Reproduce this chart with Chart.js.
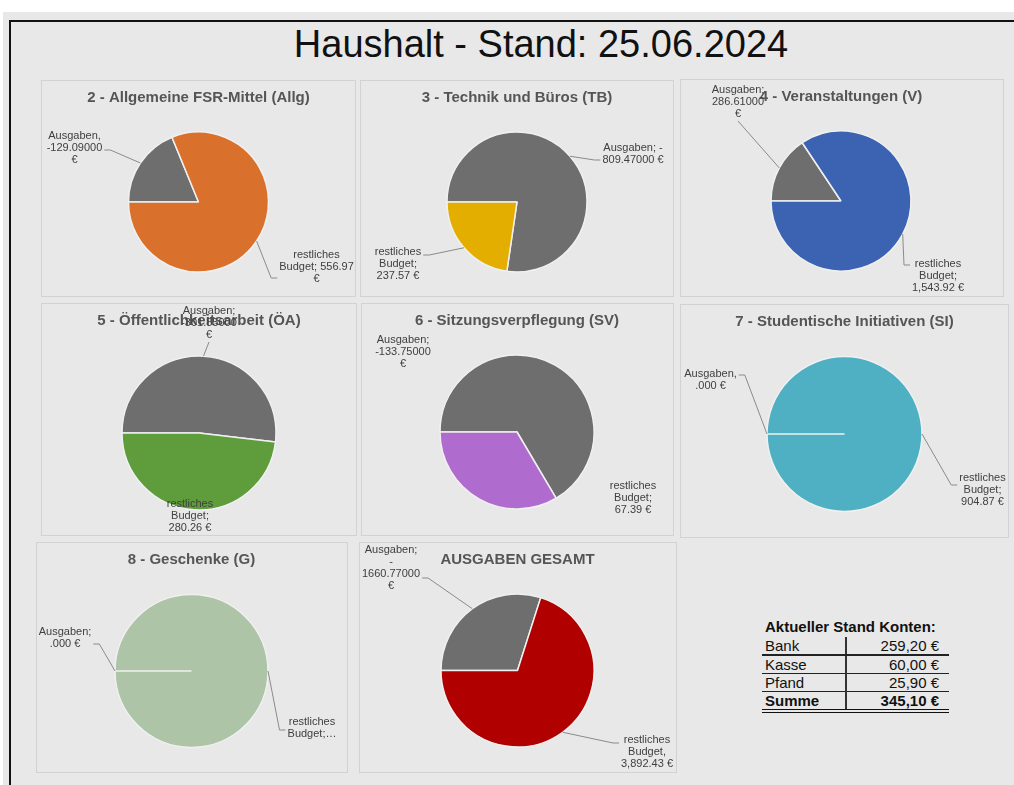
<!DOCTYPE html>
<html>
<head>
<meta charset="utf-8">
<script src="https://cdn.jsdelivr.net/npm/chart.js"></script>
<style>
  html, body { margin: 0; width: 1014px; height: 785px; overflow: hidden; background: #fff; font-family: "Liberation Sans", Arial, sans-serif; }
  #bg { position: absolute; left: 3px; top: 12px; width: 1011px; height: 773px; background: #e8e8e8; }
  #rahmen { position: absolute; left: 9px; top: 20px; width: 1010px; height: 780px; border-top: 2px solid #111; border-left: 2px solid #111; }
  #haupttitel { position: absolute; left: 0; width: 1082px; top: 22px; text-align: center; font-size: 38px; line-height: 44px; color: #111; }
  .panel { position: absolute; box-sizing: border-box; border: 1px solid #d2d2d2; }
  .panel canvas { display: block; }
  #konten { position: absolute; left: 762px; top: 618px; border-collapse: collapse; font-size: 15px; color: #111; }
  #konten caption { text-align: left; font-weight: bold; padding: 0 0 1px 3px; line-height: 18px; white-space: nowrap; }
  #konten td { padding: 0 3px; line-height: 17px; height: 17px; }
  #konten td:first-child { width: 77px; border-right: 2px solid #333; }
  #konten td:last-child { width: 89px; text-align: right; padding-right: 10px; }
  #konten tr.z0 td { border-bottom: 2px solid #222; }
  #konten tr.z1 td, #konten tr.z2 td { border-bottom: 1.5px solid #222; }
  #konten tr.summe td { font-weight: bold; border-bottom: 4px double #111; }
</style>
</head>
<body>
<div id="bg"></div>
<div id="rahmen"></div>
<div id="haupttitel">Haushalt - Stand: 25.06.2024</div>
<div id="panels"></div>
<table id="konten"><caption>Aktueller Stand Konten:</caption><tbody></tbody></table>

<script>
// Daten
const kategorien = [
  '2 - Allgemeine FSR-Mittel (Allg)',
  '3 - Technik und Büros (TB)',
  '4 - Veranstaltungen (V)',
  '5 - Öffentlichkeitsarbeit (ÖA)',
  '6 - Sitzungsverpflegung (SV)',
  '7 - Studentische Initiativen (SI)',
  '8 - Geschenke (G)',
  'AUSGABEN GESAMT'
];
const ausgaben = [129.09, 809.47, 286.61, 301.85, 133.75, 0, 0, 1660.77];
const restlichesBudget = [556.97, 237.57, 1543.92, 280.26, 67.39, 904.87, 301.45, 3892.43];
const farben = ['#d9702b', '#e4ae00', '#3b63b1', '#5f9c3b', '#b06bcf', '#4fb0c3', '#adc4a6', '#b00000'];

const ausgabenTexte = [
  ['Ausgaben,', '-129.09000', '€'],
  ['Ausgaben; -', '809.47000 €'],
  ['Ausgaben;', '286.61000', '€'],
  ['Ausgaben;', '-301.85000', '€'],
  ['Ausgaben;', '-133.75000', '€'],
  ['Ausgaben,', '.000 €'],
  ['Ausgaben;', '.000 €'],
  ['Ausgaben;', '-', '1660.77000', '€']
];
const budgetTexte = [
  ['restliches', 'Budget; 556.97', '€'],
  ['restliches', 'Budget;', '237.57 €'],
  ['restliches', 'Budget;', '1,543.92 €'],
  ['restliches', 'Budget;', '280.26 €'],
  ['restliches', 'Budget;', '67.39 €'],
  ['restliches', 'Budget;', '904.87 €'],
  ['restliches', 'Budget;…'],
  ['restliches', 'Budget,', '3,892.43 €']
];

const konten = ['Bank', 'Kasse', 'Pfand'];
const kontostand = [259.20, 60.00, 25.90];
const summe = 345.10;

// Layout der Kacheln (Position, Kreismitte, Radius) und Beschriftungsversatz
const kacheln = [
  { l: 41,  t: 80,  w: 315, h: 217, cx: 198.5, cy: 202,   r: 70,
    lab: [{ dx: -124, dy: -54, linie: 'seite', ly: 2 }, { dx: 118, dy: 65, linie: 'seite', ly: 11 }] },
  { l: 360, t: 80,  w: 314, h: 217, cx: 517,   cy: 202,   r: 70,
    lab: [{ dx: 116, dy: -48, linie: 'seite', ly: 6 }, { dx: -119, dy: 62, linie: 'seite', ly: -9 }] },
  { l: 680, t: 79,  w: 324, h: 218, cx: 841,   cy: 201,   r: 70,
    lab: [{ dx: -103, dy: -99, linie: 'unten' }, { dx: 97, dy: 75, linie: 'seite', ly: -11 }] },
  { l: 41,  t: 303, w: 316, h: 233, cx: 199,   cy: 433,   r: 77,
    lab: [{ dx: 10, dy: -110, linie: 'unten' }, { dx: -9, dy: 83 }] },
  { l: 361, t: 303, w: 313, h: 233, cx: 517,   cy: 432,   r: 77,
    lab: [{ dx: -114, dy: -80 }, { dx: 116, dy: 66 }] },
  { l: 680, t: 304, w: 329, h: 234, cx: 844.5, cy: 434,   r: 77.5,
    lab: [{ dx: -134, dy: -54, linie: 'seite', ly: -5 }, { dx: 138, dy: 56, linie: 'seite', ly: -5 }] },
  { l: 36,  t: 542, w: 312, h: 231, cx: 191.5, cy: 671,   r: 76.5,
    lab: [{ dx: -126.5, dy: -33, linie: 'seite', ly: 6 }, { dx: 120.5, dy: 57, linie: 'seite', ly: 2 }] },
  { l: 359, t: 542, w: 318, h: 231, cx: 517.5, cy: 670.5, r: 76.5,
    lab: [{ dx: -126.5, dy: -102.5, linie: 'seite', ly: 10 }, { dx: 129.5, dy: 81.5, linie: 'seite', ly: -9 }] }
];

// Datenbeschriftungen mit Führungslinien
const beschriftung = {
  id: 'beschriftung',
  afterDraw(chart, args, opts) {
    const ctx = chart.ctx;
    const meta = chart.getDatasetMeta(0);
    ctx.save();
    ctx.font = '11px "Liberation Sans", Arial, sans-serif';
    ctx.textAlign = 'center';
    ctx.textBaseline = 'middle';
    meta.data.forEach((arc, i) => {
      const p = opts.lab[i];
      const lines = opts.texte[i];
      const { x, y, startAngle, endAngle, outerRadius } =
        arc.getProps(['x', 'y', 'startAngle', 'endAngle', 'outerRadius'], true);
      const mid = (startAngle + endAngle) / 2;
      const ax = x + Math.cos(mid) * outerRadius;
      const ay = y + Math.sin(mid) * outerRadius;
      const bx = x + p.dx, by = y + p.dy;
      const lh = 12;
      const w = Math.max(...lines.map(s => ctx.measureText(s).width));
      const h = lines.length * lh;
      if (p.linie) {
        ctx.strokeStyle = '#8a8a8a';
        ctx.lineWidth = 1;
        ctx.beginPath();
        ctx.moveTo(ax, ay);
        if (p.linie === 'unten') {
          ctx.lineTo(bx, by + h / 2 + 1);
        } else {
          const seite = bx < ax ? 1 : -1;
          const ex = bx + seite * (w / 2 + 2);
          ctx.lineTo(ex + seite * 6, by + (p.ly || 0));
          ctx.lineTo(ex, by + (p.ly || 0));
        }
        ctx.stroke();
      }
      ctx.fillStyle = '#404040';
      lines.forEach((s, k) => ctx.fillText(s, bx, by - h / 2 + lh / 2 + k * lh));
    });
    ctx.restore();
  }
};

const panels = document.getElementById('panels');
kacheln.forEach((k, i) => {
  const div = document.createElement('div');
  div.className = 'panel';
  div.style.left = k.l + 'px';
  div.style.top = k.t + 'px';
  div.style.width = k.w + 'px';
  div.style.height = k.h + 'px';
  const cv = document.createElement('canvas');
  div.appendChild(cv);
  panels.appendChild(div);

  const wc = k.w - 2, hc = k.h - 2;
  const cxL = k.cx - k.l - 1, cyL = k.cy - k.t - 1;
  const titelHoehe = 8 + 18 + 10;
  const padBottom = Math.max(0, titelHoehe + hc - 2 * cyL);
  const padLeft = Math.max(0, 2 * cxL - wc);
  const padRight = Math.max(0, wc - 2 * cxL);

  new Chart(cv, {
    type: 'pie',
    data: {
      labels: ['Ausgaben', 'restliches Budget'],
      datasets: [{
        data: [ausgaben[i], restlichesBudget[i]],
        backgroundColor: ['#6e6e6e', farben[i]],
        borderColor: '#f0f0f0',
        borderWidth: 1.5,
        radius: k.r
      }]
    },
    options: {
      responsive: true,
      maintainAspectRatio: false,
      animation: false,
      rotation: 270,
      layout: { padding: { top: 0, bottom: padBottom, left: padLeft, right: padRight } },
      plugins: {
        legend: { display: false },
        tooltip: { enabled: false },
        title: {
          display: true,
          text: kategorien[i],
          color: '#555',
          font: { family: '"Liberation Sans", Arial, sans-serif', size: 15, weight: 'bold' },
          padding: { top: 8, bottom: 10 }
        },
        beschriftung: { lab: k.lab, texte: [ausgabenTexte[i], budgetTexte[i]] }
      }
    },
    plugins: [beschriftung]
  });
});

// Kontentabelle
const euro = v => v.toFixed(2).replace('.', ',') + ' €';
const tbody = document.querySelector('#konten tbody');
konten.forEach((name, i) => {
  const tr = document.createElement('tr');
  tr.className = 'z' + i;
  tr.innerHTML = '<td>' + name + '</td><td>' + euro(kontostand[i]) + '</td>';
  tbody.appendChild(tr);
});
const trS = document.createElement('tr');
trS.className = 'summe';
trS.innerHTML = '<td>Summe</td><td>' + euro(summe) + '</td>';
tbody.appendChild(trS);
</script>
</body>
</html>
